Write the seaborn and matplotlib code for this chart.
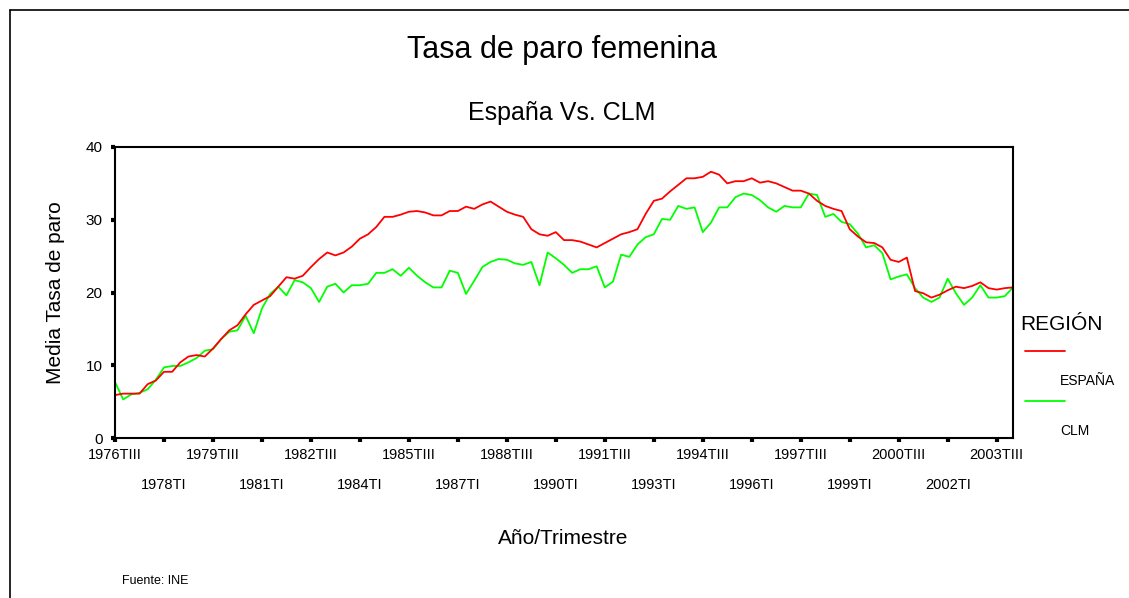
import pandas as pd
import matplotlib.pyplot as plt
from matplotlib.lines import Line2D
import seaborn as sns

sns.set_style("ticks")
plt.rcParams['font.family'] = ['Liberation Sans', 'DejaVu Sans']
plt.rcParams.update({"text.color": "black", "axes.labelcolor": "black",
                     "xtick.color": "black", "ytick.color": "black"})

## Data ##

espana = [5.9, 6.1, 6.1, 6.1, 7.4, 7.9, 9.1, 9.1, 10.4, 11.2,
          11.4, 11.2, 12.3, 13.6, 14.8, 15.5, 17.0, 18.3, 18.9, 19.5,
          20.8, 22.1, 21.9, 22.3, 23.5, 24.6, 25.5, 25.1, 25.5, 26.3,
          27.4, 28.0, 29.0, 30.4, 30.4, 30.7, 31.1, 31.2, 31.0, 30.6,
          30.6, 31.2, 31.2, 31.8, 31.5, 32.1, 32.5, 31.8, 31.1, 30.7,
          30.4, 28.7, 28.0, 27.8, 28.3, 27.2, 27.2, 27.0, 26.6, 26.2,
          26.8, 27.4, 28.0, 28.3, 28.7, 30.8, 32.6, 32.9, 33.9, 34.8,
          35.7, 35.7, 35.9, 36.6, 36.2, 35.0, 35.3, 35.3, 35.7, 35.1,
          35.3, 35.0, 34.5, 34.0, 34.0, 33.6, 32.6, 31.9, 31.5, 31.2,
          28.7, 27.7, 26.9, 26.8, 26.2, 24.5, 24.2, 24.8, 20.2, 19.9,
          19.3, 19.7, 20.3, 20.8, 20.6, 20.9, 21.4, 20.6, 20.4, 20.6, 20.7]

clm = [7.7, 5.3, 6.0, 6.2, 6.7, 8.0, 9.7, 9.9, 9.9, 10.4,
       11.0, 12.0, 12.2, 13.6, 14.6, 14.8, 16.8, 14.4, 17.8, 19.8,
       20.8, 19.6, 21.7, 21.4, 20.6, 18.7, 20.8, 21.2, 20.0, 21.0,
       21.0, 21.2, 22.7, 22.7, 23.2, 22.3, 23.4, 22.3, 21.4, 20.7,
       20.7, 23.0, 22.7, 19.8, 21.6, 23.5, 24.2, 24.6, 24.5, 24.0,
       23.8, 24.2, 21.0, 25.5, 24.7, 23.8, 22.7, 23.2, 23.2, 23.6,
       20.7, 21.5, 25.2, 24.9, 26.6, 27.6, 28.0, 30.1, 30.0, 31.9,
       31.5, 31.7, 28.3, 29.6, 31.7, 31.7, 33.1, 33.6, 33.4, 32.7,
       31.7, 31.1, 31.9, 31.7, 31.7, 33.6, 33.4, 30.4, 30.8, 29.7,
       29.4, 28.1, 26.2, 26.5, 25.4, 21.8, 22.2, 22.5, 20.6, 19.3,
       18.7, 19.3, 21.9, 19.9, 18.3, 19.3, 21.0, 19.3, 19.3, 19.5, 20.7]

labels_top = ["1976TIII", "1979TIII", "1982TIII", "1985TIII", "1988TIII",
              "1991TIII", "1994TIII", "1997TIII", "2000TIII", "2003TIII"]
labels_bottom = ["1978TI", "1981TI", "1984TI", "1987TI", "1990TI",
                 "1993TI", "1996TI", "1999TI", "2002TI"]

regions = ["ESPAÑA", "CLM"]
palette = {"ESPAÑA": "#ff0000", "CLM": "#00ff00"}

n = len(espana)
df = pd.DataFrame({
    "t": list(range(n)) * 2,
    "tasa": clm + espana,
    "region": ["CLM"] * n + ["ESPAÑA"] * n,
})

## Plot ##

W, H = 1129, 598
fig = plt.figure(figsize=(W / 100, H / 100), dpi=100)
ax = fig.add_axes([115 / W, 1 - 438 / H, 898 / W, 291 / H])

# red drawn last so it sits on top, as in the original
sns.lineplot(data=df, x="t", y="tasa", hue="region", hue_order=["CLM", "ESPAÑA"],
             palette=palette, linewidth=1.3, legend=False, ax=ax)

ax.set_xlim(0, n - 1)
ax.set_ylim(0, 40)
ax.set_yticks([0, 10, 20, 30, 40])
ax.set_xticks(list(range(0, 109, 12)), labels_top)
ax.set_xticks(list(range(6, 109, 12)), labels_bottom, minor=True)
ax.tick_params(axis="both", which="both", direction="out", length=3,
               width=3, color="black", labelsize=10.5)
ax.tick_params(axis="x", which="major", pad=4)
ax.tick_params(axis="x", which="minor", pad=26)
ax.tick_params(axis="y", pad=6, labelsize=11)
for s in ax.spines.values():
    s.set_visible(True)
    s.set_linewidth(1.5)
    s.set_color("black")
ax.set_xlabel("")
ax.set_ylabel("Media Tasa de paro", fontsize=15, labelpad=15)

fig.text(562 / W, 1 - 50 / H, "Tasa de paro femenina", ha="center",
         va="center", fontsize=22)
fig.text(562 / W, 1 - 113 / H, "España Vs. CLM", ha="center",
         va="center", fontsize=18)
fig.text(563 / W, 1 - 538 / H, "Año/Trimestre", ha="center",
         va="center", fontsize=15)
fig.text(122 / W, 1 - 581 / H, "Fuente: INE", ha="left", va="center",
         fontsize=9)

# legend, SPSS style
fig.text(1020 / W, 1 - 325 / H, "REGIÓN", ha="left", va="center", fontsize=15)
for k, r in enumerate(regions):
    y_line = 351 + k * 50
    fig.add_artist(Line2D([1025 / W, 1065 / W], [1 - y_line / H] * 2,
                          color=palette[r], linewidth=1.3,
                          transform=fig.transFigure))
    fig.text(1060 / W, 1 - (y_line + 30) / H, r, ha="left", va="center",
             fontsize=10)

# outer frame
fig.add_artist(Line2D([10 / W, 10 / W], [0, 1 - 10 / H], color="black",
                      linewidth=1.2, transform=fig.transFigure))
fig.add_artist(Line2D([10 / W, 1], [1 - 10 / H] * 2, color="black",
                      linewidth=1.2, transform=fig.transFigure))

fig.savefig("out.png", dpi=100)
